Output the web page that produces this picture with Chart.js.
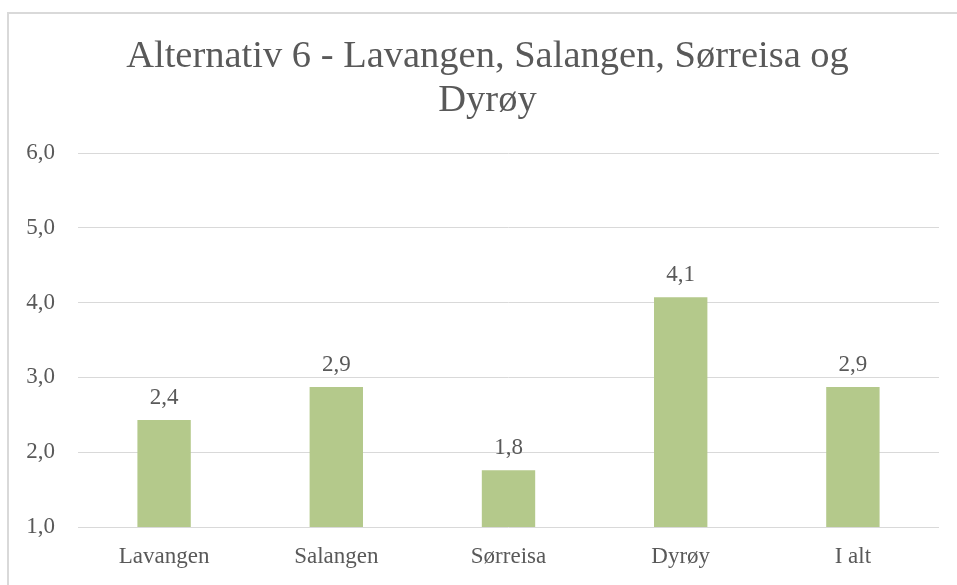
<!DOCTYPE html>
<html>
<head>
<meta charset="utf-8">
<script src="https://cdn.jsdelivr.net/npm/chart.js@4"></script>
<style>
    html, body { margin: 0; padding: 0; background: #fff; overflow: hidden; }
    #frame {
        position: absolute; left: 7px; top: 12px; width: 1000px; height: 1000px;
        border-left: 2px solid #d9d9d9; border-top: 2px solid #d9d9d9;
    }
    #wrap { position: absolute; left: 0; top: 0; width: 957px; height: 585px; }
</style>
</head>
<body>
<div id="frame"></div>
<div id="wrap"><canvas id="chart"></canvas></div>
<script>
const titleLines = ["Alternativ 6 - Lavangen, Salangen, Sørreisa og", "Dyrøy"];
const categories = ["Lavangen", "Salangen", "Sørreisa", "Dyrøy", "I alt"];
const values = [2.43, 2.87, 1.76, 4.07, 2.87];

const textColor = "#595959";
const gridColor = "#d9d9d9";
const serif = "'Liberation Serif', 'DejaVu Serif', serif";

const fmt = v => v.toFixed(1).replace(".", ",");

// two-line title, centred on the framed box rather than the plot
const chartTitle = {
    id: "chartTitle",
    afterDraw(chart) {
        const ctx = chart.ctx;
        ctx.save();
        ctx.font = "38.5px " + serif;
        ctx.fillStyle = textColor;
        ctx.textAlign = "center";
        ctx.textBaseline = "alphabetic";
        const cx = (chart.width + 18) / 2;
        titleLines.forEach((line, i) => ctx.fillText(line, cx, 67 + i * 44));
        ctx.restore();
    }
};

// value labels above each bar
const valueLabels = {
    id: "valueLabels",
    afterDatasetsDraw(chart) {
        const ctx = chart.ctx;
        const meta = chart.getDatasetMeta(0);
        ctx.save();
        ctx.font = "23px " + serif;
        ctx.fillStyle = textColor;
        ctx.textAlign = "center";
        ctx.textBaseline = "alphabetic";
        meta.data.forEach((bar, i) => {
            ctx.fillText(fmt(values[i]), bar.x, bar.y - 16);
        });
        ctx.restore();
    }
};

const ctx = document.getElementById("chart").getContext("2d");
new Chart(ctx, {
    type: "bar",
    data: {
        labels: categories,
        datasets: [{
            data: values,
            backgroundColor: "#b4c98b",
            barPercentage: 0.31,
            categoryPercentage: 1
        }]
    },
    options: {
        responsive: true,
        maintainAspectRatio: false,
        animation: false,
        layout: { padding: { left: 0, right: 18, top: 153, bottom: 0 } },
        plugins: {
            legend: { display: false },
            tooltip: { enabled: false },
            title: { display: false }
        },
        scales: {
            x: {
                grid: { display: false, drawTicks: false },
                border: { display: false },
                ticks: { color: textColor, font: { family: serif, size: 23 }, padding: 16 },
                afterFit: scale => { scale.height = 58; }
            },
            y: {
                min: 1,
                max: 6,
                grid: { color: gridColor, lineWidth: 1, drawTicks: false },
                border: { display: false },
                ticks: {
                    stepSize: 1,
                    color: textColor,
                    font: { family: serif, size: 23 },
                    padding: 23,
                    callback: v => fmt(v)
                },
                afterFit: scale => { scale.width = 78; }
            }
        }
    },
    plugins: [valueLabels, chartTitle]
});
</script>
</body>
</html>
